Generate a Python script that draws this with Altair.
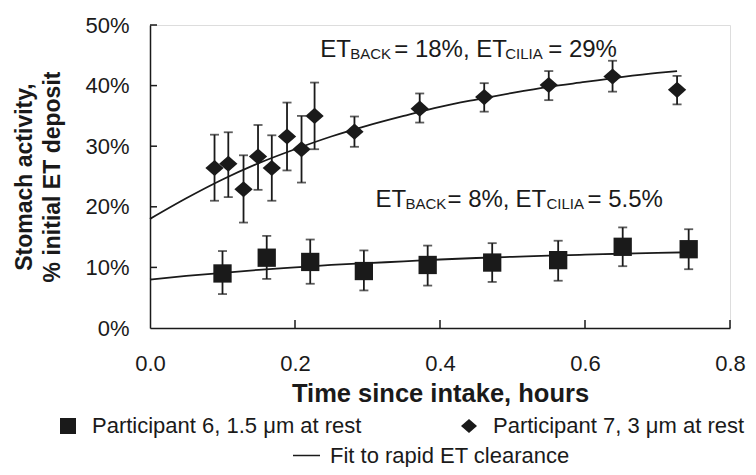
import altair as alt
import pandas as pd

# ---------------- data ----------------
S6 = "Participant 6, 1.5 μm at rest"
S7 = "Participant 7, 3 μm at rest"
FIT = "Fit to rapid ET clearance"

p6_t = [0.100, 0.161, 0.221, 0.295, 0.383, 0.472, 0.563, 0.652, 0.743]
p6_y = [9.0, 11.6, 10.9, 9.4, 10.4, 10.8, 11.2, 13.4, 13.0]
p6_lo = [5.6, 8.1, 7.3, 6.2, 7.0, 7.6, 7.8, 10.2, 9.7]
p6_hi = [12.7, 15.2, 14.6, 12.8, 13.6, 14.0, 14.4, 16.6, 16.3]

p7_t = [0.089, 0.108, 0.129, 0.149, 0.168, 0.189, 0.209, 0.227, 0.282, 0.372, 0.461, 0.550, 0.638, 0.727]
p7_y = [26.4, 27.1, 22.9, 28.3, 26.4, 31.6, 29.5, 35.0, 32.4, 36.2, 38.1, 40.1, 41.5, 39.3]
p7_lo = [21.0, 21.6, 17.4, 22.8, 21.0, 26.0, 24.0, 29.5, 29.9, 33.9, 35.7, 37.6, 39.0, 36.9]
p7_hi = [31.9, 32.3, 28.5, 33.5, 31.8, 37.2, 35.0, 40.5, 34.9, 38.7, 40.4, 42.4, 44.1, 41.6]

fit7_t = [0.0, 0.05, 0.10, 0.15, 0.20, 0.25, 0.30, 0.35, 0.40, 0.45, 0.50, 0.55, 0.60, 0.65, 0.70, 0.727]
fit7_y = [18.0, 21.4, 24.5, 27.2, 29.5, 31.6, 33.4, 35.0, 36.5, 37.7, 38.8, 39.8, 40.6, 41.4, 42.1, 42.4]
fit6_t = [0.0, 0.05, 0.10, 0.15, 0.20, 0.25, 0.30, 0.35, 0.40, 0.45, 0.50, 0.55, 0.60, 0.65, 0.70, 0.745]
fit6_y = [8.0, 8.6, 9.1, 9.6, 10.0, 10.4, 10.7, 11.0, 11.3, 11.55, 11.75, 11.95, 12.1, 12.25, 12.4, 12.5]

x_ticks = [0.0, 0.2, 0.4, 0.6, 0.8]
y_ticks = [0, 10, 20, 30, 40, 50]

ann_upper = ["ET", "BACK", "= 18%,", "ET", "CILIA", "= 29%"]
ann_lower = ["ET", "BACK", "= 8%,", "ET", "CILIA", "= 5.5%"]
ann_anchor_t = [0.2348, 0.311]
ann_anchor_y = [44.8, 20.0]

# ---------------- styling ----------------
FONT = "Liberation Sans"
INK = "#1a1a1a"
W, H = 580, 303

points = pd.DataFrame({
    "t": p6_t + p7_t,
    "y": p6_y + p7_y,
    "lo": p6_lo + p7_lo,
    "hi": p6_hi + p7_hi,
    "series": [S6] * len(p6_t) + [S7] * len(p7_t),
})
fits = pd.DataFrame({
    "t": fit6_t + fit7_t,
    "y": fit6_y + fit7_y,
    "curve": ["p6"] * len(fit6_t) + ["p7"] * len(fit7_t),
    "fit": [FIT] * (len(fit6_t) + len(fit7_t)),
})

xscale = alt.Scale(domain=[0, 0.8], nice=False, zero=False)
yscale = alt.Scale(domain=[0, 50], nice=False)

xaxis = alt.Axis(
    values=x_ticks, format=".1f", title="Time since intake, hours",
    ticks=False, tickSize=0, grid=False, labelFlush=False, labelOverlap=False,
    domainColor=INK, domainWidth=1.5,
    labelFont=FONT, labelFontSize=22, labelColor=INK, labelBaseline="middle", labelPadding=35,
    titleFont=FONT, titleFontSize=25.5, titleFontWeight="bold", titleColor=INK,
    titleBaseline="middle", titleY=65, titleX=W / 2,
)
yaxis = alt.Axis(
    values=y_ticks, labelExpr="datum.value + '%'",
    title=["Stomach activity,", "% initial ET deposit"],
    ticks=False, tickSize=0, grid=False, labelFlush=False, labelOverlap=False,
    domainColor=INK, domainWidth=1.5,
    labelFont=FONT, labelFontSize=22, labelColor=INK, labelPadding=21,
    titleFont=FONT, titleFontSize=23, titleFontWeight="bold", titleColor=INK,
    titleAngle=270, titleBaseline="middle", titleAlign="center",
    titleX=-126, titleY=H / 2, titleLineHeight=28,
)


def X(field="t"):
    return alt.X(f"{field}:Q", scale=xscale, axis=xaxis)


def Y(field="y"):
    return alt.Y(f"{field}:Q", scale=yscale, axis=yaxis)


diamond = "M0,-0.88L1,0L0,0.88L-1,0Z"

shape_legend = alt.Legend(
    title=None, orient="none", legendX=-93, legendY=390, direction="horizontal",
    columns=2, columnPadding=96, padding=0,
    labelFont=FONT, labelFontSize=22, labelColor=INK, labelLimit=0, labelOffset=13,
    symbolSize=256, symbolFillColor=INK, symbolStrokeWidth=0, symbolOpacity=1,
)
fit_legend = alt.Legend(
    title=None, orient="none", legendX=142, legendY=416, padding=0,
    labelFont=FONT, labelFontSize=22, labelColor=INK, labelLimit=0, labelOffset=9,
    symbolType="stroke", symbolSize=729, symbolStrokeWidth=1.5,
)

base = alt.Chart(points)

err = base.mark_rule(color=INK, strokeWidth=1.8).encode(x=X(), y=Y("lo"), y2="hi:Q")
cap_hi = base.mark_tick(color=INK, orient="horizontal", size=9, thickness=1.8).encode(x=X(), y=Y("hi"))
cap_lo = base.mark_tick(color=INK, orient="horizontal", size=9, thickness=1.8).encode(x=X(), y=Y("lo"))

fit_lines = alt.Chart(fits).mark_line(interpolate="monotone", strokeWidth=1.8).encode(
    x=X(), y=Y(), detail="curve:N",
    stroke=alt.Stroke("fit:N", scale=alt.Scale(range=[INK]), legend=fit_legend),
)

pts = base.mark_point(filled=True, opacity=1, color=INK, size=335).encode(
    x=X(), y=Y(),
    shape=alt.Shape("series:N", scale=alt.Scale(domain=[S6, S7], range=["square", diamond]), legend=shape_legend),
)

xt = pd.DataFrame({"t": x_ticks[1:]})
yt = pd.DataFrame({"y": y_ticks[1:]})
xtick_marks = alt.Chart(xt).mark_rule(color=INK, strokeWidth=1.5).encode(
    x=X(), y=alt.value(H), y2=alt.value(H - 8))
ytick_marks = alt.Chart(yt).mark_rule(color=INK, strokeWidth=1.5).encode(
    y=Y(), x=alt.value(0), x2=alt.value(7))

# annotations: main text + subscripts (subscripts are items 1 and 4)
ann_offsets = [[0, 30, 74, 156, 185, 228], [0, 30, 72, 140, 171, 212]]
ann_layers = []
for k, segs in enumerate([ann_upper, ann_lower]):
    df = pd.DataFrame({"t": [ann_anchor_t[k]], "y": [ann_anchor_y[k]]})
    for i, s in enumerate(segs):
        sub = i in (1, 4)
        ann_layers.append(
            alt.Chart(df).mark_text(
                text=s, align="left", baseline="alphabetic", font=FONT,
                fontSize=15 if sub else 24, color=INK, dx=ann_offsets[k][i], dy=2 if sub else 0,
            ).encode(x=X(), y=Y())
        )

chart = alt.layer(
    xtick_marks, ytick_marks, fit_lines, err, cap_hi, cap_lo, pts, *ann_layers
).properties(
    width=W, height=H,
    autosize=alt.AutoSizeParams(type="none"),
    padding={"left": 142, "top": 17, "right": 18, "bottom": 139},
    background="white",
).configure_view(stroke=None).configure(font=FONT)

chart.save("out.html", embed_options={"renderer": "svg", "actions": False})
